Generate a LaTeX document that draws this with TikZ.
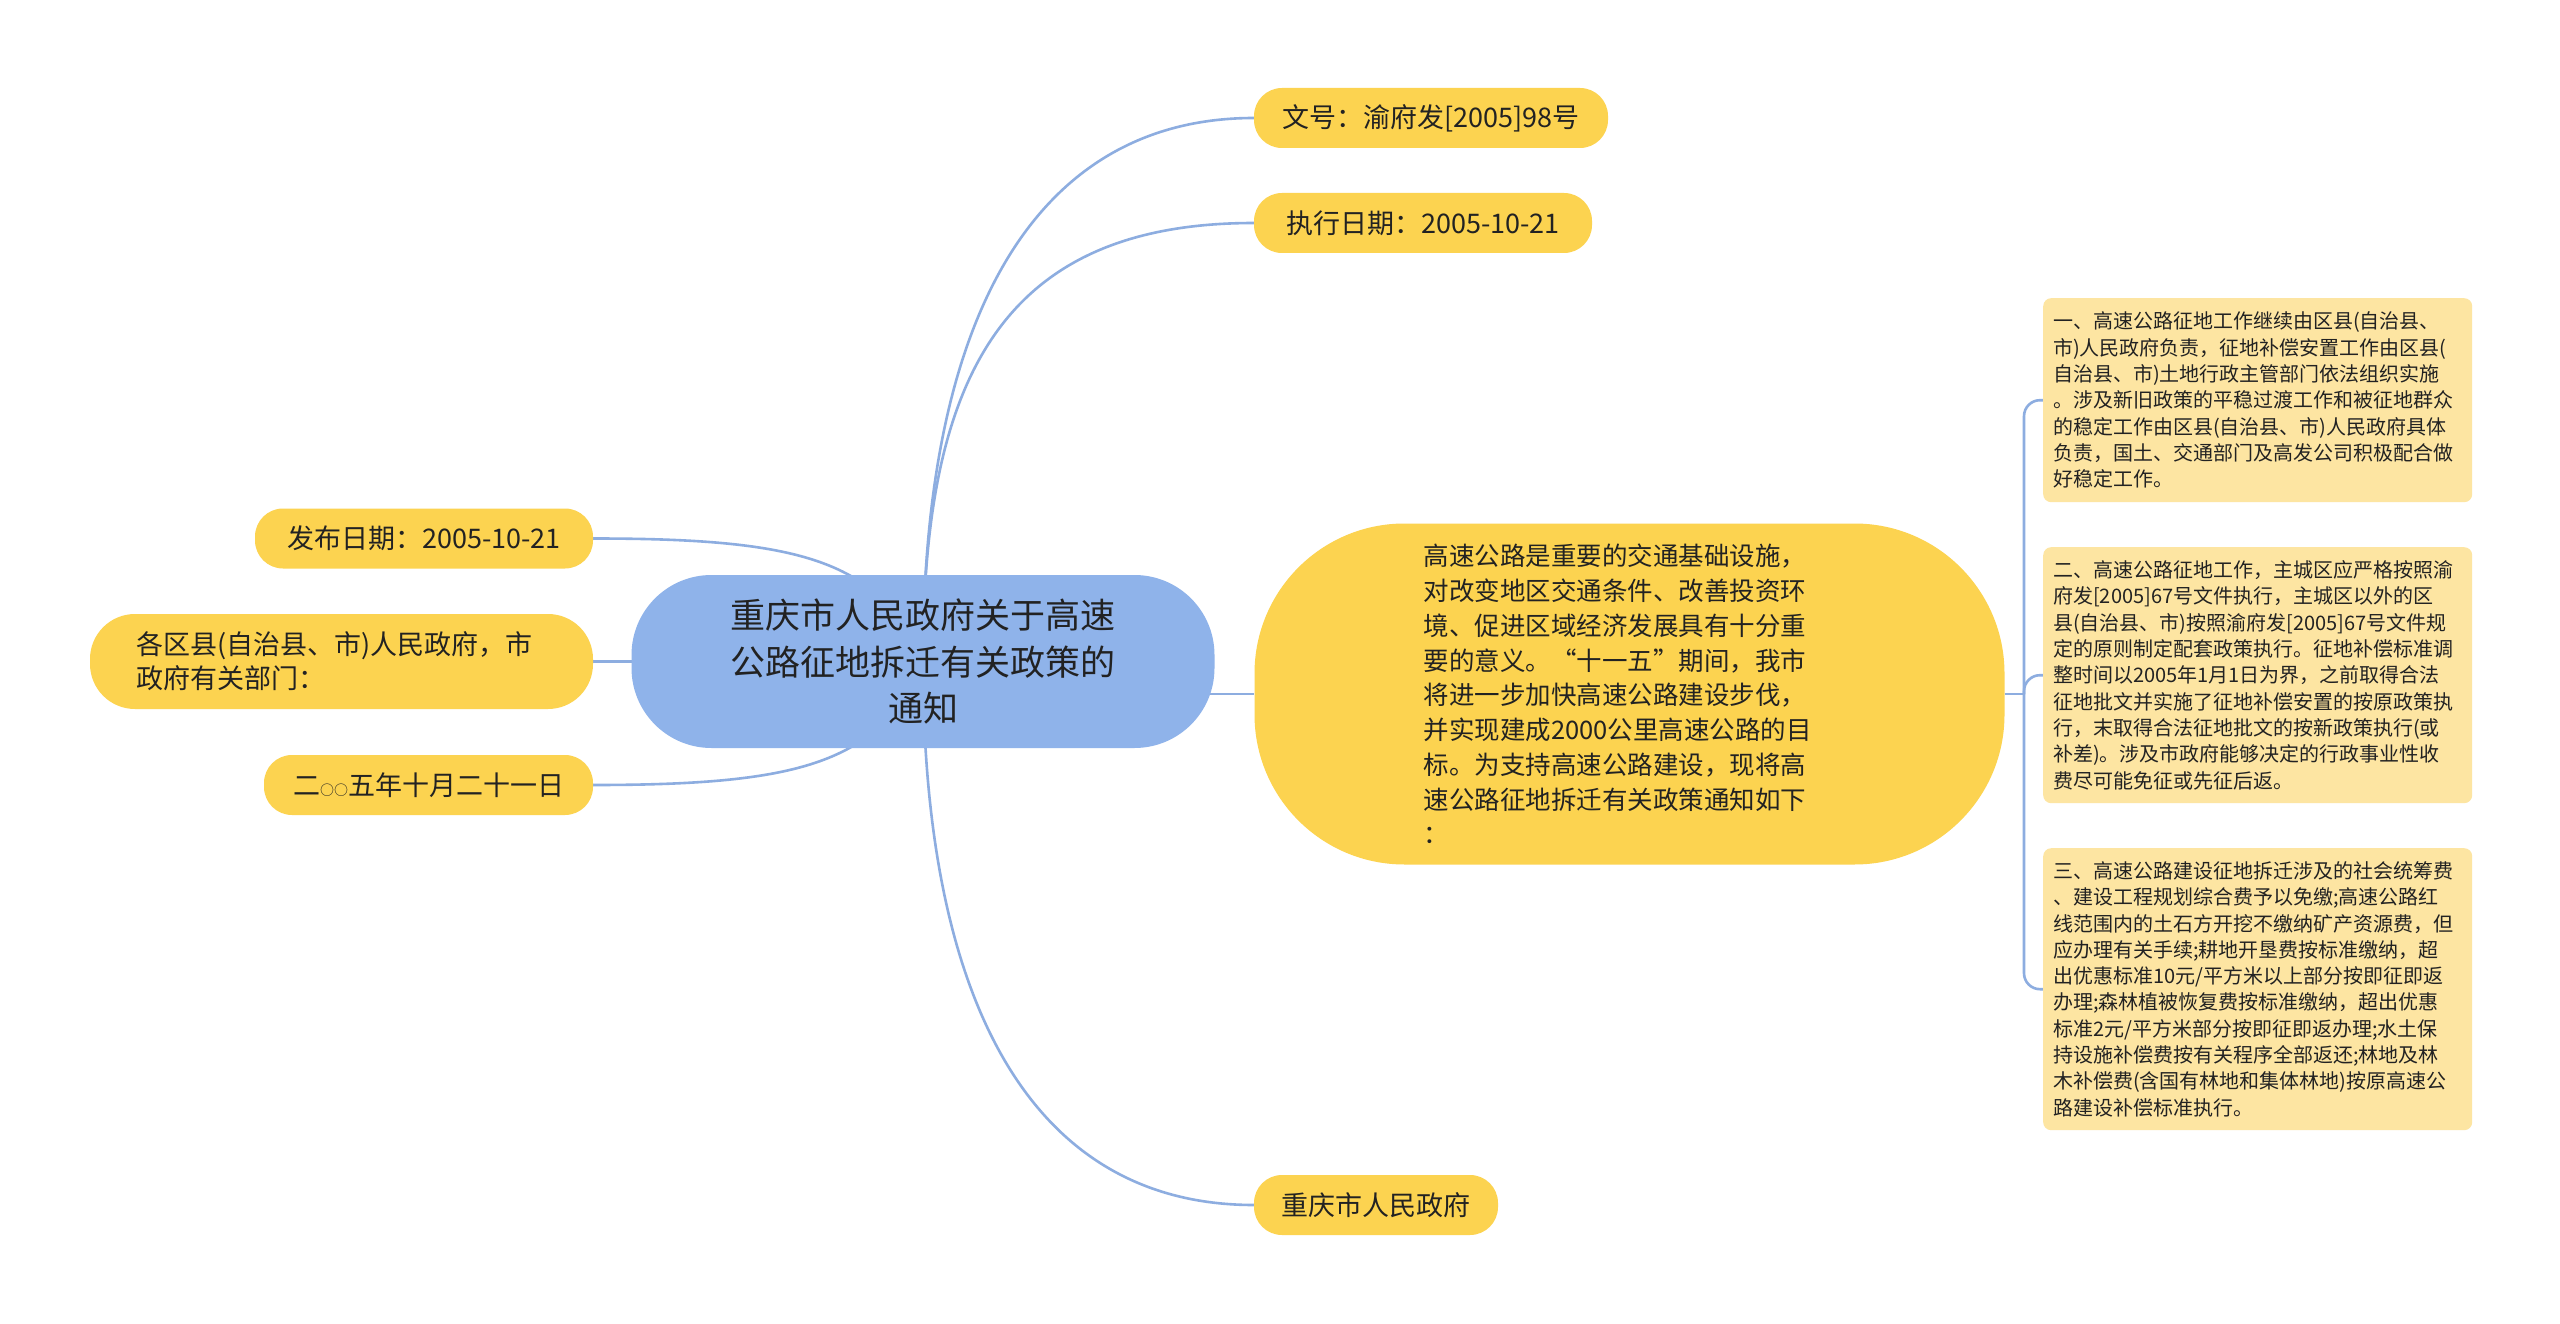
\documentclass[tikz,border=0pt]{standalone}
\usepackage{fontspec}
\setmainfont{Noto Sans CJK SC}
\usetikzlibrary{backgrounds}
\definecolor{cblue}{HTML}{8FB3EA}
\definecolor{cyellow}{HTML}{FCD350}
\definecolor{clight}{HTML}{FDE5A2}
\definecolor{cline}{HTML}{8DADE0}
\definecolor{ctext}{HTML}{222222}
\begin{document}
\begin{tikzpicture}[x=1pt,y=-1pt,
  pill/.style={fill=cyellow, rounded corners=28pt, minimum height=60pt, inner sep=0pt, text=ctext, font=\fontsize{27}{34}\selectfont},
  root/.style={fill=cblue, rounded corners=80pt, minimum width=583pt, minimum height=173pt, inner sep=0pt, align=center, text=ctext, font=\fontsize{35}{46.5}\selectfont},
  bigbox/.style={fill=cyellow, rounded corners=150pt, minimum width=750pt, minimum height=341pt, inner sep=0pt, text width=412pt, align=left, text=ctext, font=\fontsize{25.5}{34.75}\selectfont},
  detail/.style={fill=clight, rounded corners=8pt, text width=409pt, inner xsep=10pt, inner ysep=0pt, align=left, anchor=north west, text=ctext, font=\fontsize{20}{26.3}\selectfont},
  conn/.style={draw=cline, line width=2.6pt}]
\useasboundingbox (0,0) rectangle (2560,1324);

% central
\node[root] (central) at (923,661.5) {重庆市人民政府关于高速\\公路征地拆迁有关政策的\\通知};

% left children
\node[pill, minimum width=338pt] (fabu) at (424,538.5) {发布日期：2005-10-21};
\node[pill, minimum width=503pt, minimum height=95pt, rounded corners=45pt, text width=411pt, align=left] (gequ) at (341.5,661.5) {各区县(自治县、市)人民政府，市\\政府有关部门：};
\node[pill, minimum width=329pt] (riqi) at (428.5,785) {二{\fontsize{14}{14}\selectfont ○○}五年十月二十一日};

% right children
\node[pill, minimum width=354pt] (wenhao) at (1431,118) {文号：渝府发[2005]98号};
\node[pill, minimum width=338pt] (zhixing) at (1423,223) {执行日期：2005-10-21};
\node[pill, minimum width=244pt] (zhengfu) at (1376,1205) {重庆市人民政府};

\node[bigbox] (big) at (1629.5,694) {高速公路是重要的交通基础设施，\\对改变地区交通条件、改善投资环\\境、促进区域经济发展具有十分重\\要的意义。“十一五”期间，我市\\将进一步加快高速公路建设步伐，\\并实现建成2000公里高速公路的目\\标。为支持高速公路建设，现将高\\速公路征地拆迁有关政策通知如下\\：};

% detail boxes
\node[detail, minimum height=204pt] (d1) at (2043,298) {一、高速公路征地工作继续由区县(自治县、\\市)人民政府负责，征地补偿安置工作由区县(\\自治县、市)土地行政主管部门依法组织实施\\。涉及新旧政策的平稳过渡工作和被征地群众\\的稳定工作由区县(自治县、市)人民政府具体\\负责，国土、交通部门及高发公司积极配合做\\好稳定工作。};
\node[detail, minimum height=256pt] (d2) at (2043,547) {二、高速公路征地工作，主城区应严格按照渝\\府发[2005]67号文件执行，主城区以外的区\\县(自治县、市)按照渝府发[2005]67号文件规\\定的原则制定配套政策执行。征地补偿标准调\\整时间以2005年1月1日为界，之前取得合法\\征地批文并实施了征地补偿安置的按原政策执\\行，末取得合法征地批文的按新政策执行(或\\补差)。涉及市政府能够决定的行政事业性收\\费尽可能免征或先征后返。};
\node[detail, minimum height=282pt] (d3) at (2043,848) {三、高速公路建设征地拆迁涉及的社会统筹费\\、建设工程规划综合费予以免缴;高速公路红\\线范围内的土石方开挖不缴纳矿产资源费，但\\应办理有关手续;耕地开垦费按标准缴纳，超\\出优惠标准10元/平方米以上部分按即征即返\\办理;森林植被恢复费按标准缴纳，超出优惠\\标准2元/平方米部分按即征即返办理;水土保\\持设施补偿费按有关程序全部返还;林地及林\\木补偿费(含国有林地和集体林地)按原高速公\\路建设补偿标准执行。};

\coordinate (bx) at (2024,694);

\begin{pgfonlayer}{background}
\fill[white] (0,0) rectangle (2560,1324);
\draw[conn] (central.center) .. controls (923,300) and (1045,118) .. (wenhao.west);
\draw[conn] (central.center) .. controls (923,380) and (1000,223) .. (zhixing.west);
\draw[conn] (central.center) .. controls (923,1000) and (1030,1205) .. (zhengfu.west);
\draw[conn] (central.center |- big.west) -- (big.west);
\draw[conn] (fabu.east) .. controls (800,538.5) and (880,560) .. (central.center);
\draw[conn] (gequ.east) -- (central.center);
\draw[conn] (riqi.east) .. controls (800,785) and (880,763) .. (central.center);
\draw[conn] (big.east) -- (bx);
\draw[conn, rounded corners=16pt] (bx) |- (d1.west);
\draw[conn, rounded corners=16pt] (bx) |- (d2.west);
\draw[conn, rounded corners=16pt] (bx) |- (d3.west);
\end{pgfonlayer}
\end{tikzpicture}
\end{document}
